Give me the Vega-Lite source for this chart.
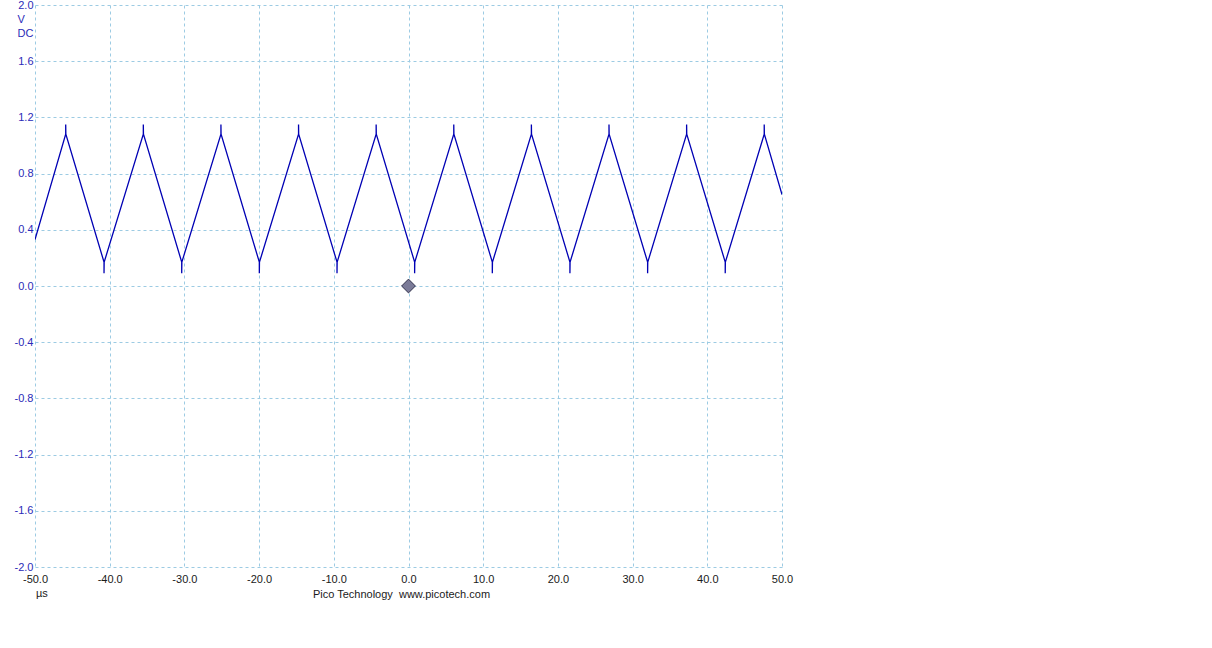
{
  "$schema": "https://vega.github.io/schema/vega-lite/v6.json",
  "autosize": {"type": "none"},
  "padding": {"left": 35, "top": 5, "right": 430, "bottom": 81},
  "width": 747,
  "height": 562,
  "background": "white",
  "config": {
    "view": {"stroke": null},
    "font": "Liberation Sans",
    "axis": {
      "grid": true,
      "gridColor": "#9ccbe3",
      "gridDash": [3, 3],
      "gridWidth": 1,
      "domain": false,
      "ticks": false,
      "labelFont": "Liberation Sans",
      "labelFontSize": 11,
      "titleFont": "Liberation Sans",
      "titleFontSize": 11,
      "titleFontWeight": "normal"
    }
  },
  "datasets": {
    "wave": [
      {"i": 0, "t": -50.0, "v": 0.33},
      {"i": 1, "t": -45.89, "v": 1.08},
      {"i": 2, "t": -45.89, "v": 1.15},
      {"i": 3, "t": -45.87, "v": 1.08},
      {"i": 4, "t": -40.76, "v": 0.17},
      {"i": 5, "t": -40.76, "v": 0.09},
      {"i": 6, "t": -40.74, "v": 0.17},
      {"i": 7, "t": -35.50, "v": 1.08},
      {"i": 8, "t": -35.50, "v": 1.15},
      {"i": 9, "t": -35.48, "v": 1.08},
      {"i": 10, "t": -30.36, "v": 0.17},
      {"i": 11, "t": -30.36, "v": 0.09},
      {"i": 12, "t": -30.34, "v": 0.17},
      {"i": 13, "t": -25.11, "v": 1.08},
      {"i": 14, "t": -25.11, "v": 1.15},
      {"i": 15, "t": -25.09, "v": 1.08},
      {"i": 16, "t": -19.97, "v": 0.17},
      {"i": 17, "t": -19.97, "v": 0.09},
      {"i": 18, "t": -19.95, "v": 0.17},
      {"i": 19, "t": -14.72, "v": 1.08},
      {"i": 20, "t": -14.72, "v": 1.15},
      {"i": 21, "t": -14.70, "v": 1.08},
      {"i": 22, "t": -9.57, "v": 0.17},
      {"i": 23, "t": -9.57, "v": 0.09},
      {"i": 24, "t": -9.55, "v": 0.17},
      {"i": 25, "t": -4.33, "v": 1.08},
      {"i": 26, "t": -4.33, "v": 1.15},
      {"i": 27, "t": -4.31, "v": 1.08},
      {"i": 28, "t": 0.82, "v": 0.17},
      {"i": 29, "t": 0.82, "v": 0.09},
      {"i": 30, "t": 0.84, "v": 0.17},
      {"i": 31, "t": 6.06, "v": 1.08},
      {"i": 32, "t": 6.06, "v": 1.15},
      {"i": 33, "t": 6.08, "v": 1.08},
      {"i": 34, "t": 11.22, "v": 0.17},
      {"i": 35, "t": 11.22, "v": 0.09},
      {"i": 36, "t": 11.24, "v": 0.17},
      {"i": 37, "t": 16.45, "v": 1.08},
      {"i": 38, "t": 16.45, "v": 1.15},
      {"i": 39, "t": 16.47, "v": 1.08},
      {"i": 40, "t": 21.61, "v": 0.17},
      {"i": 41, "t": 21.61, "v": 0.09},
      {"i": 42, "t": 21.63, "v": 0.17},
      {"i": 43, "t": 26.84, "v": 1.08},
      {"i": 44, "t": 26.84, "v": 1.15},
      {"i": 45, "t": 26.86, "v": 1.08},
      {"i": 46, "t": 32.01, "v": 0.17},
      {"i": 47, "t": 32.01, "v": 0.09},
      {"i": 48, "t": 32.03, "v": 0.17},
      {"i": 49, "t": 37.23, "v": 1.08},
      {"i": 50, "t": 37.23, "v": 1.15},
      {"i": 51, "t": 37.25, "v": 1.08},
      {"i": 52, "t": 42.40, "v": 0.17},
      {"i": 53, "t": 42.40, "v": 0.09},
      {"i": 54, "t": 42.42, "v": 0.17},
      {"i": 55, "t": 47.62, "v": 1.08},
      {"i": 56, "t": 47.62, "v": 1.15},
      {"i": 57, "t": 47.64, "v": 1.08},
      {"i": 58, "t": 50.0, "v": 0.65}
    ],
    "trigger": [{"t": 0.0, "v": 0.0}],
    "unit": [{"t": -50.0, "v": -2.0, "label": "µs"}]
  },
  "layer": [
    {
      "data": {"name": "wave"},
      "mark": {"type": "line", "color": "#0000b4", "strokeWidth": 1.3, "clip": true},
      "encoding": {
        "x": {
          "field": "t", "type": "quantitative",
          "scale": {"domain": [-50, 50], "nice": false, "zero": false},
          "axis": {
            "values": [-50, -40, -30, -20, -10, 0, 10, 20, 30, 40, 50],
            "labelExpr": "replace(format(datum.value, '.1f'), '\u2212', '-')",
            "labelColor": "#1a1a1a",
            "labelPadding": 6,
            "labelOverlap": false,
            "labelFlush": false,
            "title": "Pico Technology\u00a0 www.picotech.com",
            "titleColor": "#1a1a1a",
            "titleX": 366,
            "titleY": 21,
            "titleAlign": "center",
            "titleBaseline": "top",
            "titleAnchor": null
          }
        },
        "y": {
          "field": "v", "type": "quantitative",
          "scale": {"domain": [-2, 2], "nice": false, "zero": false},
          "axis": {
            "values": [-2, -1.6, -1.2, -0.8, -0.4, 0, 0.4, 0.8, 1.2, 1.6, 2],
            "labelExpr": "replace(format(datum.value, '.1f'), '\u2212', '-')",
            "labelColor": "#2b2bb8",
            "labelPadding": 2,
            "labelOverlap": false,
            "labelFlush": false,
            "title": ["V", "DC"],
            "titleColor": "#2b2bb8",
            "titleAngle": 0,
            "titleAlign": "left",
            "titleBaseline": "top",
            "titleX": -18,
            "titleY": 8,
            "titleLineHeight": 14
          }
        },
        "order": {"field": "i", "type": "quantitative"}
      }
    },
    {
      "data": {"name": "trigger"},
      "mark": {"type": "point", "shape": "diamond", "size": 190, "filled": true, "fill": "#7b7b98", "stroke": "#33334d", "strokeWidth": 1, "opacity": 1},
      "encoding": {
        "x": {"field": "t", "type": "quantitative"},
        "y": {"field": "v", "type": "quantitative"}
      }
    },
    {
      "data": {"name": "unit"},
      "mark": {"type": "text", "align": "left", "baseline": "top", "dx": 1, "dy": 21, "fontSize": 11, "font": "Liberation Sans", "color": "#1a1a1a"},
      "encoding": {
        "x": {"field": "t", "type": "quantitative"},
        "y": {"field": "v", "type": "quantitative"},
        "text": {"field": "label"}
      }
    }
  ]
}
